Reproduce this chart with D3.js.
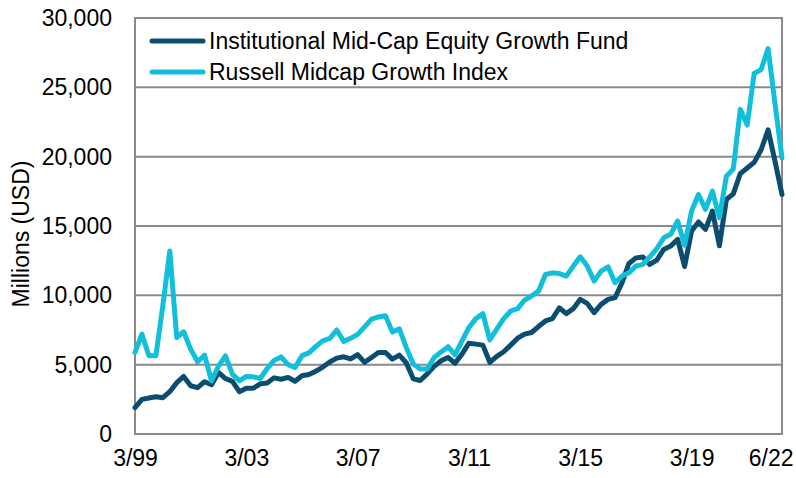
<!DOCTYPE html>
<html>
<head>
<meta charset="utf-8">
<script src="https://cdn.jsdelivr.net/npm/d3@7"></script>
<style>
  html, body { margin: 0; padding: 0; background: #fff; }
  svg text { font-family: "Liberation Sans", Arial, sans-serif; fill: #000; }
</style>
</head>
<body>
<svg id="chart" width="796" height="478"></svg>
<script>
// quarter-end labels 3/99 .. 6/22
const categories = [];
for (let y = 1999; y <= 2022; y++) {
    for (const m of [3, 6, 9, 12]) {
        if (y === 2022 && m > 6) break;
        categories.push(m + "/" + String(y).slice(2));
    }
}

const tickLabels = ["3/99", "3/03", "3/07", "3/11", "3/15", "3/19", "6/22"];
const yTicks = [0, 5000, 10000, 15000, 20000, 25000, 30000];

const seriesNames = ["Institutional Mid-Cap Equity Growth Fund", "Russell Midcap Growth Index"];

const fundValues = [
    1900, 2500, 2600, 2680, 2620, 3050, 3700, 4150, 3480, 3340,
    3770, 3550, 4440, 4000, 3800, 3050, 3300, 3300, 3620, 3680,
    4050, 3950, 4080, 3800, 4200, 4290, 4530, 4830, 5190, 5470,
    5570, 5410, 5730, 5170, 5520, 5880, 5880, 5400, 5690, 5120,
    3980, 3860, 4340, 4880, 5280, 5520, 5100, 5760, 6550, 6480,
    6410, 5170, 5600, 5930, 6410, 6910, 7200, 7320, 7750, 8150,
    8320, 9090, 8680, 9040, 9710, 9420, 8750, 9350, 9710, 9830,
    10900, 12300, 12700, 12760, 12230, 12540, 13310, 13550, 14040, 12080,
    14640, 15290, 14760, 16080, 13570, 16910, 17320, 18780, 19180, 19590,
    20500, 21930, 19660, 17270
];

const indexValues = [
    5880, 7200, 5640, 5640, 9240, 13200, 6960, 7370, 6120, 5210,
    5690, 3840, 4900, 5640, 4320, 3840, 4150, 4120, 4000, 4720,
    5310, 5560, 5000, 4800, 5650, 5850, 6320, 6720, 6890, 7500,
    6680, 6900, 7180, 7730, 8290, 8440, 8530, 7350, 7580, 6230,
    5050, 4690, 4690, 5520, 5920, 6300, 5700, 6720, 7680, 8320,
    8680, 6790, 7560, 8320, 8870, 9040, 9660, 9950, 10300, 11500,
    11620, 11570, 11390, 12110, 12780, 12110, 11030, 11750, 12060, 10910,
    11390, 11630, 12110, 12230, 12780, 13360, 14150, 14400, 15360, 13610,
    16080, 17270, 16200, 17510, 15600, 18590, 19110, 23410, 22290, 26000,
    26280, 27790, 23800, 19900
];

const colors = ["#0b4d6e", "#12bfdb"];

const svg = d3.select("#chart");
const margin = {left: 135, right: 14, top: 18, bottom: 44};
const width = 796, height = 478;

const x = d3.scalePoint()
    .domain(categories)
    .range([margin.left, width - margin.right]);

const y = d3.scaleLinear()
    .domain([0, 30000])
    .range([height - margin.bottom, margin.top]);

const gridColor = "#8a8a8a";

// gridlines
svg.append("g")
    .selectAll("line")
    .data(yTicks)
    .enter()
    .append("line")
    .attr("x1", margin.left)
    .attr("x2", width - margin.right)
    .attr("y1", d => y(d))
    .attr("y2", d => y(d))
    .attr("stroke", gridColor)
    .attr("stroke-width", 2);

// plot frame
svg.append("rect")
    .attr("x", margin.left)
    .attr("y", margin.top)
    .attr("width", width - margin.right - margin.left)
    .attr("height", height - margin.bottom - margin.top)
    .attr("fill", "none")
    .attr("stroke", gridColor)
    .attr("stroke-width", 2);

// y tick labels
let yAxis = d3.axisLeft(y).tickValues(yTicks).tickFormat(d3.format(",")).tickSize(0).tickPadding(23);
let yg = svg.append("g").attr("transform", "translate(" + margin.left + ",0)").call(yAxis);
yg.select(".domain").remove();
yg.selectAll("text")
    .attr("font-size", 23)
    .attr("font-family", "Liberation Sans, Arial, sans-serif")
    .attr("fill", "#000");

// x tick labels
let xAxis = d3.axisBottom(x).tickValues(tickLabels).tickSize(0).tickPadding(16);
let xg = svg.append("g").attr("transform", "translate(0," + (height - margin.bottom) + ")").call(xAxis);
xg.select(".domain").remove();
xg.selectAll("text")
    .attr("font-size", 23)
    .attr("font-family", "Liberation Sans, Arial, sans-serif")
    .attr("fill", "#000")
    .each(function () {
        // keep the last label inside the canvas
        let w = this.getComputedTextLength();
        let px = x(this.textContent);
        let over = px + w / 2 - (width - 3);
        if (over > 0) d3.select(this).attr("x", -over);
    });

// y axis title
svg.append("text")
    .attr("transform", "translate(29," + (margin.top + (height - margin.bottom - margin.top) / 2 + 8) + ") rotate(-90)")
    .attr("text-anchor", "middle")
    .attr("font-size", 23)
    .text("Millions (USD)");

// lines, fund first so the index sits on top
let line = d3.line()
    .x((d, i) => x(categories[i]))
    .y(d => y(d));

[fundValues, indexValues].forEach(function (values, i) {
    svg.append("path")
        .datum(values)
        .attr("d", line)
        .attr("fill", "none")
        .attr("stroke", colors[i])
        .attr("stroke-width", 5)
        .attr("stroke-linejoin", "round")
        .attr("stroke-linecap", "round");
});

// legend
let legend = svg.append("g");
seriesNames.forEach(function (name, i) {
    let ly = 41 + i * 31;
    legend.append("line")
        .attr("x1", 152).attr("x2", 203)
        .attr("y1", ly).attr("y2", ly)
        .attr("stroke", colors[i])
        .attr("stroke-width", 5)
        .attr("stroke-linecap", "round");
    legend.append("text")
        .attr("x", 209)
        .attr("y", ly)
        .attr("dy", "0.36em")
        .attr("font-size", 23)
        .text(name);
});
</script>
</body>
</html>
